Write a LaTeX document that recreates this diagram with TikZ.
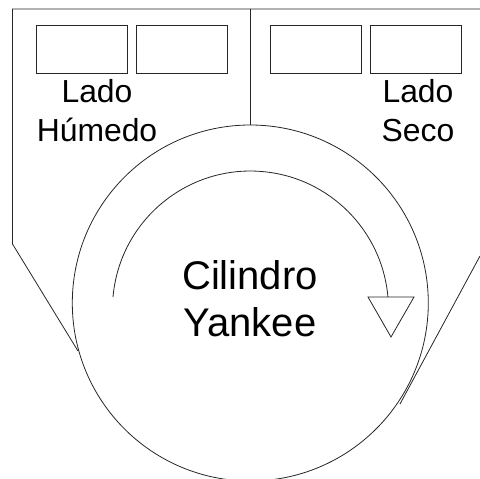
\documentclass[tikz,border=0pt]{standalone}
\usepackage{fontspec}
\setmainfont{Liberation Sans}
\tikzset{
	box/.style={rectangle, draw, inner sep=0pt, minimum width=68.25pt, minimum height=35.6pt},
	side/.style={align=center, inner sep=0pt, font=\fontsize{23.9}{29.7}\selectfont},
	drum/.style={align=center, inner sep=0pt, font=\fontsize{30}{35}\selectfont}
}

\begin{document}
\begin{tikzpicture}[x=0.75pt, y=-0.75pt, line width=0.6pt, color={black!85}]
	\useasboundingbox (0, 0) rectangle (480, 479);
	\coordinate (tl) at (12.5, 9);
	\coordinate (tr) at (480, 9);
	\coordinate (tm) at (250.7, 9);
	\coordinate (lb) at (12.5, 244);
	\coordinate (lc) at (78, 351);
	\coordinate (rt) at (480, 256);
	\coordinate (rc) at (400, 404);
	\node[box] (w1) at (82, 49.25) {};
	\node[box] (w2) at (181.5, 49.25) {};
	\node[box] (d1) at (315.75, 49.25) {};
	\node[box] (d2) at (415.5, 49.25) {};
	\node[circle, draw, inner sep=0pt, minimum size=267pt] (yankee) at (250.3, 303) {};
	\coordinate (tc) at (yankee.north -| tm);
	\draw (lc) -- (lb) -- (tl) -- (tr);
	\draw (tm) -- (tc);
	\draw (rt) -- (rc);
	\coordinate (as) at (113, 297);
	\draw (as) arc[start angle=-175, end angle=-5, radius=138];
	\coordinate (ta) at (368, 297);
	\coordinate (tb) at (414, 297);
	\coordinate (tp) at (391, 337);
	\draw (ta) -- (tb) -- (tp) -- cycle;
	\node[side, text=black] (lh) at (97, 110.5) {Lado\\Húmedo};
	\node[side, text=black] (ls) at (418, 110.5) {Lado\\Seco};
	\node[drum, text=black] (cy) at (250, 298.5) {Cilindro\\Yankee};
\end{tikzpicture}
\end{document}
